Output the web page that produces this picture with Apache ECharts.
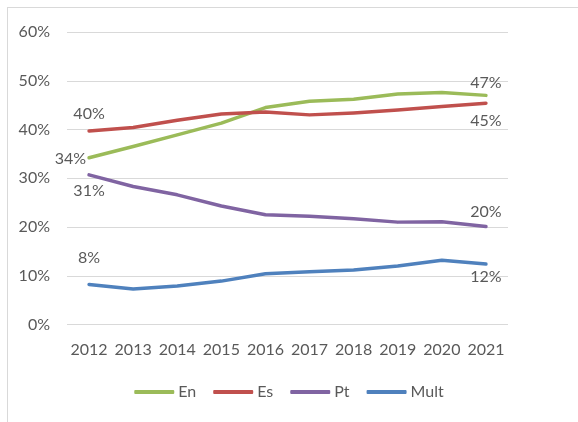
<!DOCTYPE html>
<html>
<head>
<meta charset="utf-8">
<script src="https://cdn.jsdelivr.net/npm/echarts@6/dist/echarts.min.js"></script>
<style>
  html, body { margin: 0; padding: 0; background: #fff; }
  #chart { width: 578px; height: 422px; position: relative; }
  .frame { position: absolute; left: 7px; top: 7px; right: 0; bottom: 0; border-left: 1px solid #d9d9d9; border-top: 1px solid #d9d9d9; pointer-events: none; }
</style>
</head>
<body>
<div id="chart"></div>
<div class="frame"></div>
<script>
const years = ['2012', '2013', '2014', '2015', '2016', '2017', '2018', '2019', '2020', '2021']
const en = [34.2, 36.5, 38.9, 41.3, 44.5, 45.8, 46.2, 47.3, 47.6, 47.0]
const es = [39.7, 40.4, 41.9, 43.2, 43.6, 43.0, 43.4, 44.0, 44.7, 45.4]
const pt = [30.7, 28.3, 26.6, 24.3, 22.5, 22.2, 21.7, 21.0, 21.1, 20.1]
const mult = [8.2, 7.3, 7.9, 8.9, 10.4, 10.8, 11.2, 12.0, 13.2, 12.4]

const textColor = '#595959'
const font = 'Lato'

// label only first and last point
const withLabels = (values, firstPos, lastPos, firstOffset, lastOffset) =>
  values.map((v, i) => {
    if (i === 0 || i === values.length - 1) {
      return {
        value: v,
        label: {
          show: true,
          position: i === 0 ? firstPos : lastPos,
          offset: i === 0 ? firstOffset : lastOffset,
          distance: 6,
          formatter: (p) => Math.round(p.value) + '%',
          color: textColor,
          fontSize: 16,
          fontFamily: font
        }
      }
    }
    return v
  })

const makeSeries = (name, values, color, fp, lp, fo, lo) => ({
  name,
  type: 'line',
  data: withLabels(values, fp, lp, fo, lo),
  symbol: 'circle',
  symbolSize: 2,
  showSymbol: true,
  smooth: false,
  lineStyle: { width: 3.5, color, cap: 'round', join: 'round' },
  itemStyle: { color },
  emphasis: { disabled: true }
})

const chart = echarts.init(document.getElementById('chart'))
chart.setOption({
  animation: false,
  grid: { left: 67, right: 70, top: 32, bottom: 97.5, containLabel: false },
  legend: {
    bottom: 17,
    left: 'center',
    itemWidth: 40,
    itemHeight: 4,
    itemGap: 17,
    icon: 'roundRect',
    textStyle: { color: textColor, fontSize: 16, fontFamily: font, padding: [0, 0, 0, -1] },
    data: ['En', 'Es', 'Pt', 'Mult']
  },
  xAxis: {
    type: 'category',
    data: years,
    boundaryGap: true,
    axisLine: { show: false },
    axisTick: { show: false },
    axisLabel: { color: textColor, fontSize: 16, fontFamily: font, margin: 17, interval: 0 }
  },
  yAxis: {
    type: 'value',
    min: 0,
    max: 60,
    interval: 10,
    axisLine: { show: false },
    axisTick: { show: false },
    axisLabel: { color: textColor, fontSize: 16, fontFamily: font, margin: 17, formatter: '{value}%' },
    splitLine: { lineStyle: { color: '#d9d9d9', width: 1 } }
  },
  series: [
    makeSeries('En', en, '#9BBB59', 'left', 'top', [4, 1], [0, 2]),
    makeSeries('Es', es, '#C0504D', 'top', 'bottom', [0, -2], [0, 3]),
    makeSeries('Pt', pt, '#8064A2', 'bottom', 'top', [0, 1], [0, 0]),
    makeSeries('Mult', mult, '#4F81BD', 'top', 'bottom', [0, -12], [0, -2])
  ]
})
</script>
</body>
</html>
